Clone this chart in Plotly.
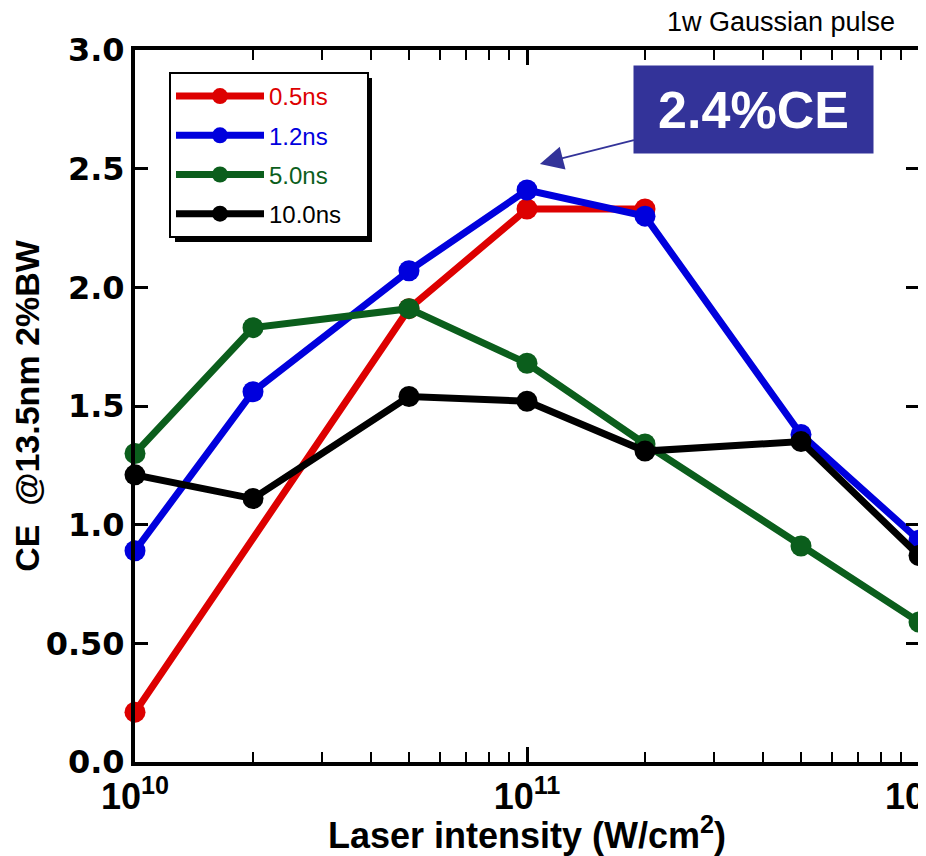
import numpy as np
import plotly.graph_objects as go

# ---- data ----
intensity = [1e10, 2e10, 5e10, 1e11, 2e11, 5e11, 1e12]
series_names = ["0.5ns", "1.2ns", "5.0ns", "10.0ns"]
ce_05ns = [0.21, None, 1.91, 2.33, 2.33, None, None]
ce_12ns = [0.89, 1.56, 2.07, 2.41, 2.30, 1.38, 0.935]
ce_50ns = [1.30, 1.83, 1.91, 1.68, 1.34, 0.91, 0.59]
ce_10ns = [1.21, 1.11, 1.54, 1.52, 1.31, 1.35, 0.87]
colors = ["#dd0000", "#0000dd", "#0b5e1c", "#000000"]

x_tickvals = [1e10, 1e11, 1e12]
x_ticktext = ["10<sup>10</sup>", "10<sup>11</sup>", "10<sup>12</sup>"]
x_minorvals = [m * 10 ** d for d in (10, 11) for m in range(2, 10)]
y_tickvals = [0, 0.5, 1.0, 1.5, 2.0, 2.5, 3.0]
y_ticktext = ["0.0", "0.50", "1.0", "1.5", "2.0", "2.5", "3.0"]

fig = go.Figure()
for i, (name, vals, col) in enumerate(zip(series_names, [ce_05ns, ce_12ns, ce_50ns, ce_10ns], colors)):
    xs = [x for x, v in zip(intensity, vals) if v is not None]
    ys = [v for v in vals if v is not None]
    fig.add_trace(go.Scatter(
        x=xs, y=ys, mode="lines+markers",
        name=f"<span style='color:{col}'>{name}</span>&nbsp;&nbsp;&nbsp;",
        legendgroup=f"g{i}",
        line=dict(color=col, width=7),
        marker=dict(color=col, size=21),
        cliponaxis=False,
    ))

OFF = 8  # page body margin
W, H = 918, 848
L, R, T, B = 127, 7, 42, 94
pw, ph = W - L - R, H - T - B

def px_x(p):
    return (p - OFF - L) / pw

def px_y(p):
    return 1 - (p - OFF - T) / ph

fig.update_layout(
    width=W, height=H,
    margin=dict(l=L, r=R, t=T, b=B, autoexpand=False),
    paper_bgcolor="white", plot_bgcolor="white",
    font=dict(family="Liberation Sans, Arial, sans-serif", color="black"),
    showlegend=True,
    legend=dict(
        x=px_x(169), y=px_y(72), xanchor="left", yanchor="top",
        bgcolor="white", bordercolor="black", borderwidth=2,
        font=dict(size=24, family="Liberation Sans, Arial, sans-serif"),
        tracegroupgap=5, traceorder="grouped",
        itemsizing="trace", itemwidth=88,
    ),
    xaxis=dict(
        type="log", range=[10, 12.00001], automargin=False,
        tickmode="array", tickvals=x_tickvals, ticktext=x_ticktext,
        ticklabeloverflow="allow",
        ticks="inside", ticklen=15, tickwidth=3, tickcolor="black",
        minor=dict(tickmode="array", tickvals=x_minorvals, ticks="inside",
                   ticklen=10, tickwidth=2, tickcolor="black", showgrid=False),
        showline=True, linewidth=4, linecolor="black", mirror="ticks",
        showgrid=False, zeroline=False,
        tickfont=dict(size=36, weight="bold", family="Liberation Sans, Arial, sans-serif"),
        title=dict(text="Laser intensity (W/cm<sup>2</sup>)", standoff=0,
                   font=dict(size=36, weight="bold", family="Liberation Sans, Arial, sans-serif")),
    ),
    yaxis=dict(
        range=[0, 3.0], automargin=False,
        tickmode="array", tickvals=y_tickvals, ticktext=y_ticktext,
        ticks="inside", ticklen=13, tickwidth=3, tickcolor="black",
        showline=True, linewidth=4, linecolor="black", mirror="ticks",
        showgrid=False, zeroline=False,
        tickfont=dict(size=32, weight="bold", family="DejaVu Sans, sans-serif"),
        title=dict(text="CE  @13.5nm 2%BW", standoff=2,
                   font=dict(size=34, weight="bold", family="Liberation Sans, Arial, sans-serif")),
    ),
)

# legend drop shadow
fig.add_shape(type="rect", xref="paper", yref="paper",
              x0=px_x(175), x1=px_x(372), y0=px_y(242), y1=px_y(78),
              fillcolor="black", line=dict(width=0), layer="above")

# header text
fig.add_annotation(text="1w Gaussian pulse", xref="paper", yref="paper",
                   x=px_x(781), y=px_y(22), xanchor="center", yanchor="middle",
                   showarrow=False, font=dict(size=27, color="black"))

# callout box with arrow
fig.add_annotation(
    text="2.4%CE", x=np.log10(10 ** 11.033), y=2.52, xref="x", yref="y",
    ax=214, ay=-54, showarrow=True, arrowhead=2, arrowsize=2.6,
    arrowwidth=1.8, arrowcolor="#333399", standoff=0,
    bgcolor="#333399", width=239, height=87, borderpad=0,
    font=dict(size=52, color="white", weight="bold"),
)

fig.write_html("out.html")
